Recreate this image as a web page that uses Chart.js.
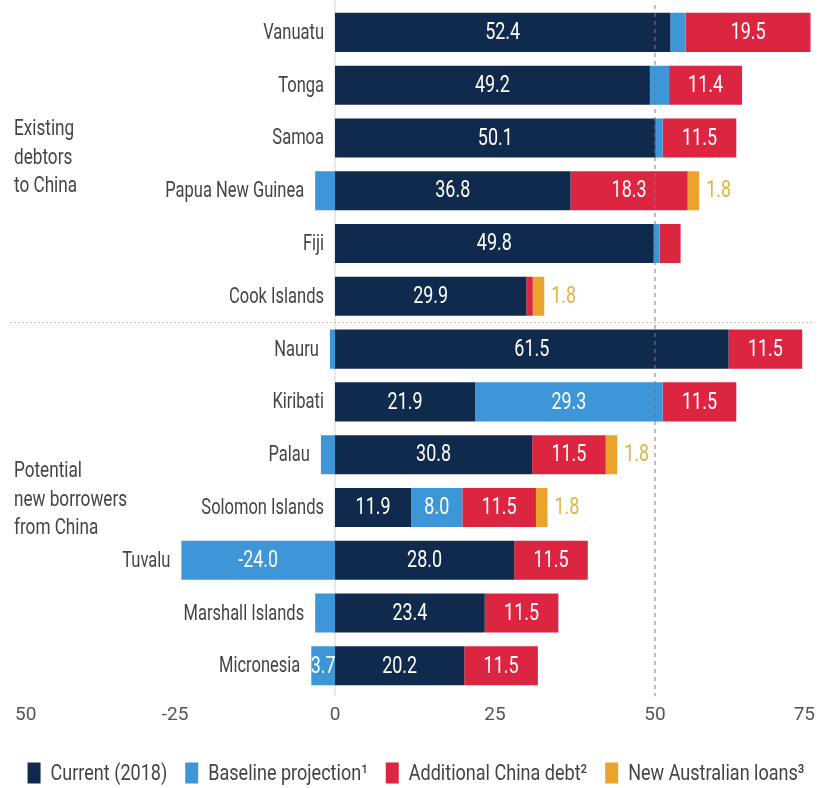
<!DOCTYPE html>
<html>
<head>
<meta charset="utf-8">
<script src="https://cdn.jsdelivr.net/npm/chart.js@4"></script>
<style>
  body { margin: 0; background: #fff; }
  #wrap { width: 820px; height: 788px; position: relative; }
</style>
</head>
<body>
<div id="wrap"><canvas id="mychart"></canvas></div>
<script>
const countries = ['Vanuatu', 'Tonga', 'Samoa', 'Papua New Guinea', 'Fiji', 'Cook Islands',
  'Nauru', 'Kiribati', 'Palau', 'Solomon Islands', 'Tuvalu', 'Marshall Islands', 'Micronesia'];

const current   = [52.4, 49.2, 50.1, 36.8, 49.8, 29.9, 61.5, 21.9, 30.8, 11.9, 28.0, 23.4, 20.2];
const baseline  = [2.4, 3.0, 1.1, -3.1, 0.9, 0, -0.8, 29.3, -2.2, 8.0, -24.0, -3.1, -3.7];
const chinaDebt = [19.5, 11.4, 11.5, 18.3, 3.3, 1.0, 11.5, 11.5, 11.5, 11.5, 11.5, 11.5, 11.5];
const ausLoans  = [0, 0, 0, 1.8, 0, 1.8, 0, 0, 1.8, 1.8, 0, 0, 0];

// printed labels (blank = not printed on the chart)
const currentLabels  = ['52.4', '49.2', '50.1', '36.8', '49.8', '29.9', '61.5', '21.9', '30.8', '11.9', '28.0', '23.4', '20.2'];
const baselineLabels = ['', '', '', '', '', '', '', '29.3', '', '8.0', '-24.0', '', '3.7'];
const chinaLabels    = ['19.5', '11.4', '11.5', '18.3', '', '', '11.5', '11.5', '11.5', '11.5', '11.5', '11.5', '11.5'];
const ausLabels      = ['', '', '', '1.8', '', '1.8', '', '', '1.8', '1.8', '', '', ''];

const seriesNames = ['Current (2018)', 'Baseline projection\u00b9', 'Additional China debt\u00b2', 'New Australian loans\u00b3'];
const xTickLabels = {'-50': '50', '-25': '-25', '0': '0', '25': '25', '50': '50', '75': '75'};
const groupLabels = [['Existing', 'debtors', 'to China'], ['Potential', 'new borrowers', 'from China']];

const colors = ['#0f2a4c', '#3d96d8', '#dc2541', '#eaa42c'];
const FONT = "Roboto, 'Liberation Sans', sans-serif";

// the original uses a condensed face; squeeze text horizontally
function narrowText(ctx, text, x, y, align, sx) {
  ctx.save();
  ctx.translate(x, y);
  ctx.scale(sx, 1);
  ctx.textAlign = align;
  ctx.fillText(text, 0, 0);
  ctx.restore();
}

const extras = {
  id: 'extras',
  beforeDatasetsDraw(chart) {
    const {ctx, chartArea, scales: {x, y}} = chart;
    ctx.save();
    const x0 = x.getPixelForValue(0);
    ctx.strokeStyle = '#d4d4d4';
    ctx.lineWidth = 1;
    ctx.beginPath(); ctx.moveTo(x0, 0); ctx.lineTo(x0, chartArea.bottom + 4); ctx.stroke();
    const ys = (y.getPixelForValue(5) + y.getPixelForValue(6)) / 2;
    ctx.setLineDash([2, 2]);
    ctx.strokeStyle = '#b8b8b8';
    ctx.beginPath(); ctx.moveTo(10, ys); ctx.lineTo(chartArea.right, ys); ctx.stroke();
    ctx.restore();
  },
  afterDatasetsDraw(chart) {
    const {ctx, chartArea, scales: {x, y}} = chart;
    ctx.save();
    // dashed line at 50
    const x50 = x.getPixelForValue(50);
    ctx.setLineDash([4, 4]);
    ctx.strokeStyle = '#7a7a7a';
    ctx.lineWidth = 1;
    ctx.beginPath(); ctx.moveTo(x50, 5); ctx.lineTo(x50, chartArea.bottom + 4); ctx.stroke();
    ctx.setLineDash([]);

    // values on bars
    const labelSets = [currentLabels, baselineLabels, chinaLabels, ausLabels];
    ctx.font = '23px ' + FONT;
    ctx.textBaseline = 'middle';
    labelSets.forEach((labels, i) => {
      const meta = chart.getDatasetMeta(i);
      meta.data.forEach((bar, j) => {
        if (!labels[j]) return;
        if (i === 3) {
          ctx.fillStyle = '#e1b544';
          narrowText(ctx, labels[j], Math.max(bar.x, bar.base) + 7, bar.y + 1, 'left', 0.78);
        } else {
          ctx.fillStyle = '#ffffff';
          narrowText(ctx, labels[j], (bar.x + bar.base) / 2, bar.y + 1, 'center', 0.78);
        }
      });
    });

    // country names, just left of each bar
    ctx.font = '22px ' + FONT;
    ctx.fillStyle = '#444';
    countries.forEach((c, j) => {
      const left = x.getPixelForValue(Math.min(0, baseline[j]));
      narrowText(ctx, c, left - 11, y.getPixelForValue(j) + 1, 'right', 0.75);
    });

    // group names
    const starts = [y.getPixelForValue(2) - 8, y.getPixelForValue(8) + 17];
    groupLabels.forEach((lines, g) => {
      lines.forEach((t, k) => narrowText(ctx, t, 14, starts[g] + k * 28.5, 'left', 0.78));
    });
    ctx.restore();
  },
  afterDraw(chart) {
    // legend row along the bottom
    const {ctx} = chart;
    ctx.save();
    ctx.font = '22px ' + FONT;
    ctx.textBaseline = 'middle';
    const sx = 0.82, box = 13, gap = 10, between = 18, ly = 773;
    const widths = seriesNames.map(n => ctx.measureText(n).width * sx);
    const total = widths.reduce((a, w) => a + box + gap + w, 0) + between * (seriesNames.length - 1);
    let lx = 416 - total / 2;
    seriesNames.forEach((n, i) => {
      ctx.fillStyle = colors[i];
      ctx.fillRect(lx, ly - 10.5, box, 21);
      ctx.fillStyle = '#444';
      narrowText(ctx, n, lx + box + gap, ly + 1, 'left', sx);
      lx += box + gap + widths[i] + between;
    });
    ctx.restore();
  }
};

const ctx = document.getElementById('mychart').getContext('2d');
let mychart = new Chart(ctx, {
  type: 'bar',
  data: {
    labels: countries,
    datasets: [current, baseline, chinaDebt, ausLoans].map((d, i) => ({
      label: seriesNames[i],
      data: d,
      backgroundColor: colors[i],
      borderWidth: 0,
      barPercentage: 0.74,
      categoryPercentage: 1
    }))
  },
  options: {
    indexAxis: 'y',
    responsive: true,
    maintainAspectRatio: false,
    animation: false,
    layout: { padding: { left: 15, right: 5, top: 6, bottom: 57 } },
    scales: {
      x: {
        stacked: true,
        min: -50,
        max: 75,
        grid: { display: false },
        border: { display: false },
        ticks: {
          stepSize: 25,
          padding: 4,
          align: 'inner',
          color: '#555',
          font: { family: FONT, size: 19 },
          callback: v => xTickLabels[String(v)]
        }
      },
      y: { stacked: true, display: false }
    },
    plugins: {
      tooltip: { enabled: false },
      legend: { display: false }
    }
  },
  plugins: [extras]
});
</script>
</body>
</html>
